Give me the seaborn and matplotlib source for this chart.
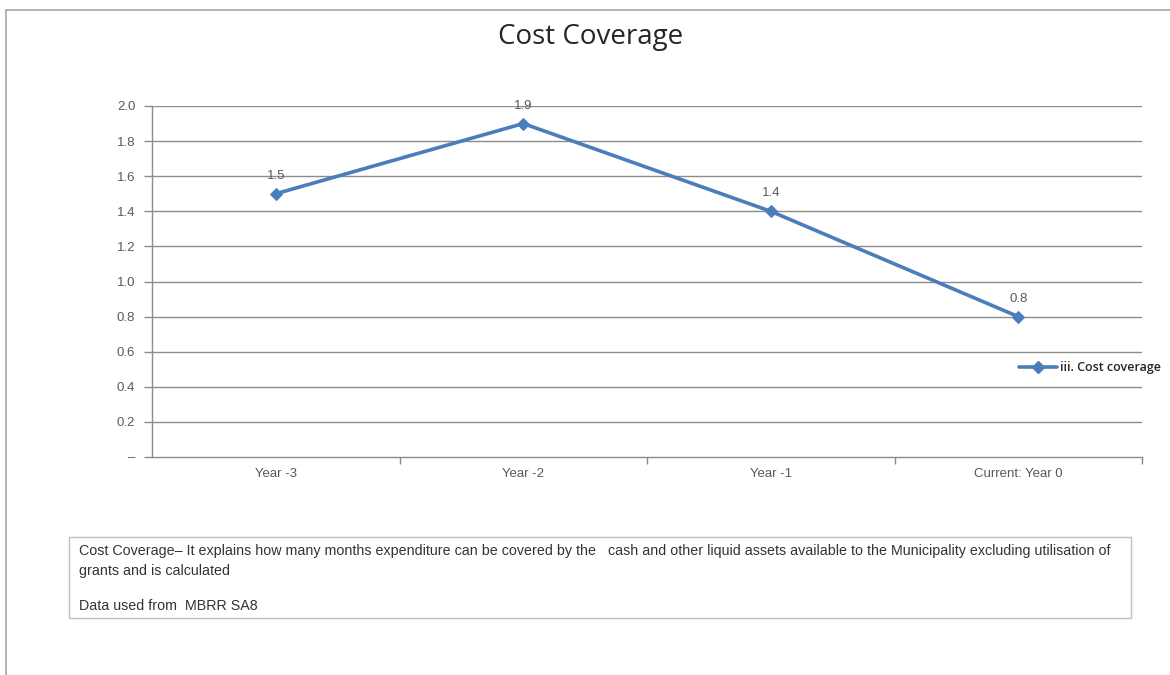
import matplotlib
matplotlib.use("Agg")
import matplotlib.pyplot as plt
from matplotlib.patches import Rectangle
from matplotlib.lines import Line2D
import seaborn as sns
import pandas as pd

categories = ["Year -3", "Year -2", "Year -1", "Current: Year 0"]
cost_coverage = [1.5, 1.9, 1.4, 0.8]
y_ticks = [0.0, 0.2, 0.4, 0.6, 0.8, 1.0, 1.2, 1.4, 1.6, 1.8, 2.0]
y_tick_labels = ["\u2013", "0.2", "0.4", "0.6", "0.8", "1.0", "1.2", "1.4", "1.6", "1.8", "2.0"]
series_name = "iii. Cost coverage"
title = "Cost Coverage"
note_lines = [
    "Cost Coverage\u2013 It explains how many months expenditure can be covered by the   cash and other liquid assets available to the Municipality excluding utilisation of",
    "grants and is calculated",
    "",
    "Data used from  MBRR SA8",
]

sns.set_theme(style="white")
plt.rcParams["font.family"] = ["Liberation Sans", "DejaVu Sans"]

W, H = 1170, 675
fig = plt.figure(figsize=(W / 100, H / 100), dpi=100)
fig.patch.set_facecolor("white")

# axes placed in pixel coordinates
left, right, top, bottom = 152, 1142, 106, 457
ax = fig.add_axes([left / W, 1 - bottom / H, (right - left) / W, (bottom - top) / H])

df = pd.DataFrame({"x": range(len(categories)), "value": cost_coverage})
line_color = "#4A7EBB"
sns.lineplot(data=df, x="x", y="value", ax=ax, color=line_color, linewidth=2.6,
             marker="D", markersize=6.5, markeredgecolor=line_color, legend=False)

ax.set_xlim(-0.5, len(categories) - 0.5)
ax.set_ylim(0, 2.0)
ax.set_yticks(y_ticks)
ax.set_yticklabels(y_tick_labels)
ax.set_xticks(range(len(categories)))
ax.set_xticklabels(categories)
ax.set_xlabel("")
ax.set_ylabel("")

grid_color = "#8c8c8c"
for v in y_ticks[1:]:
    ax.axhline(v, color=grid_color, linewidth=1.0, zorder=0)

for s in ["top", "right"]:
    ax.spines[s].set_visible(False)
for s in ["left", "bottom"]:
    ax.spines[s].set_color(grid_color)
    ax.spines[s].set_linewidth(1.0)

label_color = "#595959"
ax.tick_params(axis="y", which="major", length=6, width=1.0, color=grid_color,
               labelsize=9.5, labelcolor=label_color, pad=6, left=True)
ax.tick_params(axis="x", which="major", length=0, labelsize=9.5, labelcolor=label_color, pad=8)
# category boundary ticks on the x axis
ax.set_xticks([i + 0.5 for i in range(len(categories))], minor=True)
ax.tick_params(axis="x", which="minor", length=5, width=1.0, color=grid_color, bottom=True, direction="out")

for i, v in enumerate(cost_coverage):
    ax.annotate(f"{v:.1f}", (i, v), xytext=(0, 8.5), textcoords="offset points",
                ha="center", va="bottom", fontsize=9.5, color=label_color)

# legend at the right of the plot
handle = Line2D([], [], color=line_color, linewidth=2.6, marker="D", markersize=6.5)
fig.legend([handle], [series_name], loc="center left",
           bbox_to_anchor=(1008 / W, 1 - 368 / H), frameon=False,
           handlelength=3.0, handletextpad=0.25,
           prop={"family": "Open Sans", "size": 9, "weight": "semibold"})

fig.text(591 / W, 1 - 37 / H, title, ha="center", va="center", fontsize=20,
         color="#262626", family="Open Sans")

# outer frame lines (top and left)
frame_color = "#a6a6a6"
fig.add_artist(Line2D([6 / W, 1.0], [1 - 10 / H, 1 - 10 / H], color=frame_color, linewidth=1.2,
                      transform=fig.transFigure))
fig.add_artist(Line2D([6 / W, 6 / W], [1 - 10 / H, 0], color=frame_color, linewidth=1.2,
                      transform=fig.transFigure))

# note box below the chart
bx0, bx1, by0, by1 = 69, 1131, 537, 618
fig.add_artist(Rectangle((bx0 / W, 1 - by1 / H), (bx1 - bx0) / W, (by1 - by0) / H,
                         transform=fig.transFigure, fill=False, edgecolor="#bfbfbf", linewidth=1.0))
y_pos = [551, 571, 591, 606]
for txt, yp in zip(note_lines, y_pos):
    if txt:
        fig.text(79 / W, 1 - yp / H, txt, ha="left", va="center", fontsize=10.3,
                 color="#333333")

fig.savefig("out.png", dpi=100, facecolor="white")
